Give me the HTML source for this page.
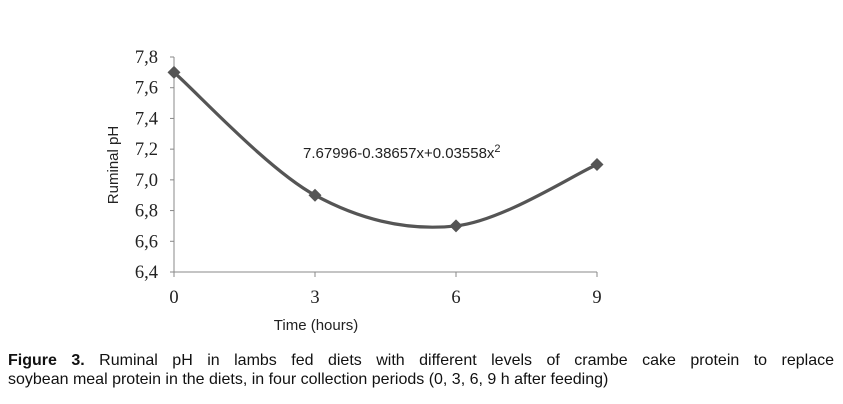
<!DOCTYPE html>
<html><head><meta charset="utf-8"><style>
body{margin:0;background:#fff;width:843px;height:404px;overflow:hidden}
svg{display:block}
.cap{position:absolute;left:8px;width:826px;font-family:"Liberation Sans",sans-serif;font-size:16px;line-height:19px;color:#111;white-space:nowrap}
.l1{top:351px;text-align:justify;text-align-last:justify}
.l2{top:370px}
</style></head><body>
<svg width="843" height="404" id="svg">
</svg>
<div class="cap l1"><b>Figure 3.</b> Ruminal pH in lambs fed diets with different levels of crambe cake protein to replace</div>
<div class="cap l2">soybean meal protein in the diets, in four collection periods (0, 3, 6, 9 h after feeding)</div>
<script>
const categories=[0,3,6,9];
const values=[7.7,6.9,6.7,7.1];
const yTicks=[6.4,6.6,6.8,7.0,7.2,7.4,7.6,7.8];
const yTickLabels=["6,4","6,6","6,8","7,0","7,2","7,4","7,6","7,8"];
const NS="http://www.w3.org/2000/svg";
const svg=document.getElementById('svg');
const X0=174,X1=597,Y0=272,Y1=57;
const xs=v=>X0+(v-0)/(9-0)*(X1-X0);
const ys=v=>Y0-(v-6.4)/(7.8-6.4)*(Y0-Y1);
function mk(t,a,txt){const e=document.createElementNS(NS,t);for(const k in a)e.setAttribute(k,a[k]);if(txt!==undefined)e.textContent=txt;svg.appendChild(e);return e;}
let e;
e=mk('line',{x1:X0,y1:Y1,x2:X0,y2:Y0,stroke:'#888','stroke-width':1});

e=mk('line',{x1:X0,y1:Y0,x2:X1,y2:Y0,stroke:'#888','stroke-width':1});

yTicks.forEach((t,i)=>{
 const y=ys(t);
 e=mk('line',{x1:X0-4,y1:y,x2:X0,y2:y,stroke:'#888'});
 
 e=mk('text',{x:X0-16,y:y+6,'text-anchor':'end','font-family':'Liberation Serif, serif','font-size':18.5,fill:'#222'},yTickLabels[i]);
 
});
categories.forEach(c=>{
 const x=xs(c);
 e=mk('line',{x1:x,y1:Y0,x2:x,y2:Y0+5,stroke:'#888'});
 
 e=mk('text',{x:x,y:Y0+31,'text-anchor':'middle','font-family':'Liberation Serif, serif','font-size':18.5,fill:'#222'},String(c));
 
});
e=mk('text',{x:316,y:330,'text-anchor':'middle','font-family':'Liberation Sans, sans-serif','font-size':15,fill:'#222'},'Time (hours)');

e=mk('text',{x:0,y:0,'text-anchor':'middle','font-family':'Liberation Sans, sans-serif','font-size':15,fill:'#222',transform:'translate(118,165) rotate(-90)'},'Ruminal pH');

const P=categories.map((c,i)=>[xs(c),ys(values[i])]);
let d='M'+P[0][0]+','+P[0][1];
for(let i=0;i<P.length-1;i++){
 const p0=P[Math.max(i-1,0)],p1=P[i],p2=P[i+1],p3=P[Math.min(i+2,P.length-1)];
 const t=1/6;
 d+=` C${p1[0]+(p2[0]-p0[0])*t},${p1[1]+(p2[1]-p0[1])*t} ${p2[0]-(p3[0]-p1[0])*t},${p2[1]-(p3[1]-p1[1])*t} ${p2[0]},${p2[1]}`;
}
e=mk('path',{d:d,fill:'none',stroke:'#555','stroke-width':3.2});

P.forEach(p=>{
 e=mk('path',{d:`M${p[0]},${p[1]-6.5}L${p[0]+6.5},${p[1]}L${p[0]},${p[1]+6.5}L${p[0]-6.5},${p[1]}Z`,fill:'#555'});
 
});
e=mk('text',{x:303,y:158,'font-family':'Liberation Sans, sans-serif','font-size':15,fill:'#222'},'7.67996-0.38657x+0.03558x');

const sup=document.createElementNS(NS,'tspan');sup.setAttribute('dy','-6');sup.setAttribute('font-size','11');sup.textContent='2';e.appendChild(sup);
</script>
</body></html>
